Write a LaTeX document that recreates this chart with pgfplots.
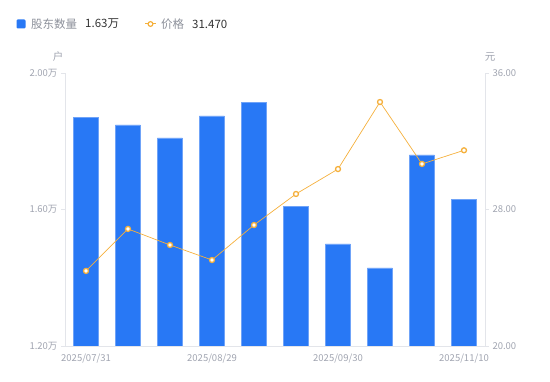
\documentclass[border=0pt]{standalone}
\usepackage{fontspec}
\setmainfont{Noto Sans CJK SC}
\usepackage{pgfplots}
\pgfplotsset{compat=1.18}
\definecolor{barblue}{HTML}{2878F5}
\definecolor{baredge}{HTML}{6FA3F8}
\definecolor{lineorange}{HTML}{F5B03C}
\definecolor{axisgrey}{HTML}{E3E5EA}
\definecolor{ticktext}{HTML}{A0A4B0}
\definecolor{legtext}{HTML}{8C909A}
\definecolor{valtext}{HTML}{333333}
\begin{document}
\begin{tikzpicture}[x=1pt,y=1pt]
\path[use as bounding box] (0,0) rectangle (550,381);
\pgfplotsset{
  common/.style={
    at={(65pt,35pt)}, anchor=south west, scale only axis,
    width=420pt, height=273pt,
    xmin=-0.5, xmax=9.5,
    axis line style={axisgrey, line width=0.8pt, -},
    tick align=outside, major tick length=4pt,
    ticklabel style={font=\fontsize{9.5}{10}\selectfont, text=ticktext},
    /pgf/number format/assume math mode=true,
  }
}
\begin{axis}[common,
  ymin=1.2, ymax=2.0,
  axis x line*=bottom, axis y line*=left,
  xtick={0,3,6,9}, xticklabels={2025/07/31,2025/08/29,2025/09/30,2025/11/10},
  xtick style={draw=none},
  ytick={1.2,1.6,2.0}, yticklabels={1.20万,1.60万,2.00万},
  ytick style={axisgrey, line width=0.8pt},
]
\addplot[ybar, bar width=25pt, fill=barblue, draw=baredge, line width=0.5pt]
 coordinates {(0,1.871) (1,1.848) (2,1.810) (3,1.874) (4,1.915) (5,1.610) (6,1.499) (7,1.429) (8,1.760) (9,1.630)};
\end{axis}
\begin{axis}[common,
  ymin=20, ymax=36,
  axis x line=none, axis y line*=right,
  ytick={20,28,36}, yticklabels={20.00,28.00,36.00},
  ytick style={axisgrey, line width=0.8pt},
  clip=false,
]
\addplot[lineorange, line width=0.7pt, mark=*, mark size=2.5pt,
  mark options={fill=white, draw=lineorange, line width=1.3pt, solid}]
 coordinates {(0,24.40) (1,26.86) (2,25.92) (3,25.04) (4,27.09) (5,28.91) (6,30.37) (7,34.30) (8,30.67) (9,31.47)};
\end{axis}
% unit labels
\node[text=ticktext, font=\fontsize{10.5}{12}\selectfont] at (58,324) {户};
\node[text=ticktext, font=\fontsize{10.5}{12}\selectfont] at (490,324) {元};
% legend
\fill[barblue, rounded corners=1.2pt] (16.5,352.5) rectangle (25.5,361.5);
\node[anchor=west, inner sep=0pt, text=legtext, font=\fontsize{11.5}{13}\selectfont] at (31,357) {股东数量};
\node[anchor=west, inner sep=0pt, text=valtext, font=\fontsize{11.5}{13}\selectfont] at (85,357) {1.63万};
\draw[lineorange, line width=1pt] (145,357) -- (156,357);
\draw[lineorange, fill=white, line width=1.2pt] (150.5,357) circle (2.4pt);
\node[anchor=west, inner sep=0pt, text=legtext, font=\fontsize{11.5}{13}\selectfont] at (161,357) {价格};
\node[anchor=west, inner sep=0pt, text=valtext, font=\fontsize{11.5}{13}\selectfont] at (192,357) {31.470};
\end{tikzpicture}
\end{document}
